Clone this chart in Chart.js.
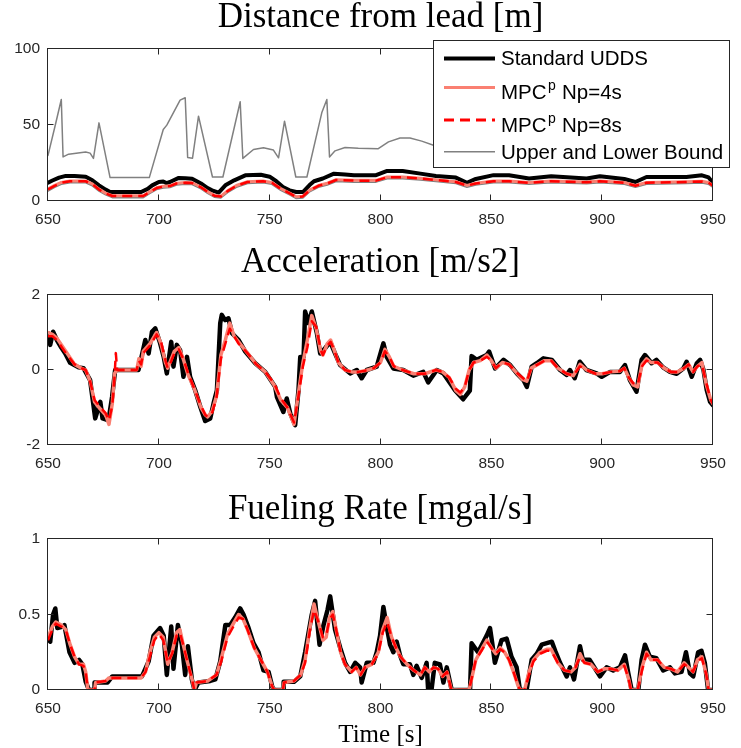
<!DOCTYPE html>
<html><head><meta charset="utf-8">
<script src="https://cdn.jsdelivr.net/npm/chart.js@4.4.1/dist/chart.umd.min.js"></script>
<style>
html,body{margin:0;padding:0;background:#fff;}
body{width:741px;height:748px;position:relative;overflow:hidden;}
canvas{position:absolute;left:0;}
</style></head><body>
<canvas id="c1" width="741" height="236" style="top:0px"></canvas>
<canvas id="c2" width="741" height="240" style="top:236px"></canvas>
<canvas id="c3" width="741" height="272" style="top:476px"></canvas>
<script>
// ---------------- DATA ----------------
const xTicks = [650, 700, 750, 800, 850, 900, 950];
const seriesNames = ['Standard UDDS', 'MPC', 'MPC', 'Upper and Lower Bound'];

// Distance from lead [m]
const distUDDS_t = [650,652,655,658,662,667,670,673,676,678,
  692,695,697,700,702,703.5,705,709,712,715,
  719,722,724,727,730,734,739,746,750,753,
  756,759,762,765,768,770,774,779,784,788,
  798,803,810,818,825,834,839,843,851,858,
  867,877,893,899,910,915,920,938,945,948,950];
const distUDDS = [12.1,13.5,15.4,16.5,16.5,16,13.6,10.3,7.5,5.9,
  5.9,8,10.3,12.5,12.8,11.8,12.5,15.2,15,14.7,
  11.5,8.5,7,5.5,10.3,13.6,16.9,17.3,16,13,
  9.2,7,5.9,5.9,10.5,13,14.8,18,17.5,17,
  17,19.8,19.8,18,16.5,15.4,12,14.5,17,16.9,
  14.8,16.3,14.8,16.3,14.5,12.5,15.8,15.8,16.9,15.5,12];

const distMPC_t = [650,653,656,660,667,670,673,676,679,693,
  696,699,702,705,708,712,715,719,722,725,
  728,731,735,740,747,751,755,759,762,765,
  768,772,776,780,788,798,803,810,818,825,
  834,839,843,851,858,867,877,893,899,910,
  915,920,938,945,948,950];
const distMPC4 = [8,10.3,12.2,13.2,13.2,11.3,7.8,5.2,3.5,3.5,
  6.2,8.7,9.7,10,11.7,12.2,12,9.2,6.2,3.7,
  3.2,6.7,10.2,12.7,13.2,12.2,8.2,5.2,2.8,3.2,
  7.2,10.2,11.7,14,13.6,13.6,15.8,15.8,15,14,
  12.7,10.3,11.7,13.2,13.2,12.2,13.2,12.5,13.2,12.2,
  10.2,12.2,12.7,13,12.2,10.2];
const distMPC8 = [7.6,10,12,13,13,11,7.5,5,3.3,3.3,
  6,8.5,9.5,9.8,11.5,12,11.8,9,6,3.5,
  3,6.5,10,12.5,13,12,8,5,2.6,3,
  7,10,11.5,13.8,13.4,13.4,15.6,15.6,14.8,13.8,
  12.5,10.1,11.5,13,13,12,13,12.3,13,12,
  10,12,12.5,12.8,12,10];
const distLower = [6.5,9,11,12,12,10,6.5,4,2.2,2.2,
  5,7.5,8.5,8.8,10.5,11,10.8,8,5,2.5,
  2,5.5,9,11.5,12,11,7,4,1.6,2,
  6,9,10.5,12.8,12.4,12.4,14.6,14.6,13.8,12.8,
  11.5,9.1,10.5,12,12,11,12,11.3,12,11,
  9,11,11.5,11.8,11,9];

const distUpper_t = [650,653.3,656,656.8,659.3,667,669,670.5,673,678,
  695.7,702,703.6,709.6,711.9,713,715.2,717.9,724.2,728.9,
  736.7,737.9,742.7,747.2,751.7,754,756.7,761.8,766.8,773.5,
  775.8,777,779.5,784,790,799,803.6,808.8,813.3,818.6,
  823.9,830,845,860,880,900,920,940,950];
const distUpper = [30,50,66.8,29,30.8,32.3,31.5,28,51.4,15.4,
  15.4,47,49.9,66.4,67.9,28.6,28.2,55.8,15.8,15.8,
  65.3,28,33.9,35,33.5,28.4,52.5,15.8,15.8,58,
  66.8,29,33,35.2,34.7,34.4,38.9,41.5,41.5,39.4,
  36.7,36,38,39,38,38,37,38,37];

// Acceleration [m/s2]
const accUDDS_t = [650,651,652.3,654,656,657.8,660,663.8,666,669,
  670.6,671.3,673.6,674.6,677.3,678.9,680.3,690.8,692,693.9,
  695.4,696.9,698.4,700.6,702.2,703.6,705.6,706.6,708.1,709.6,
  711.1,712.7,714.1,716.4,718.7,720.9,723.2,724.7,726.2,727.7,
  728.4,729.9,731.4,733,736,739,743.5,748,752.5,753.3,
  756.2,757.7,759.3,761.5,763,763.8,765.3,766,767.5,769,
  771.3,772.8,775,777.3,779.5,781.8,786.3,789.3,791.5,793.8,
  798.3,801.3,802.8,805.8,810.3,814.8,819.3,821.5,825.4,828.4,
  833.6,837.3,840.3,841.1,843.4,847.9,849,851.7,855.5,858.5,
  861.5,864.5,866,868.2,870.5,873.5,877.3,881,884,885.5,
  887.6,889.9,892.9,897.5,899.8,903.6,908,910.3,912.5,915.5,
  917.8,919.3,922.3,924.5,927.5,930.6,933.6,936.6,938.1,940.4,
  942.7,944.2,945.7,947.2,948.7,950];
const accUDDS = [0.98,0.67,1.02,0.8,0.6,0.44,0.19,0.07,0.05,-0.27,
  -0.98,-1.29,-0.85,-1.29,-1.34,-0.72,0,0,0.3,0.8,
  0.44,1.02,1.11,0.71,0.35,-0.09,0.75,0.09,0.67,0.53,
  -0.18,0.35,-0.18,-0.54,-0.98,-1.36,-1.29,-0.89,-0.54,1.25,
  1.47,1.33,1.38,0.98,0.8,0.49,0.18,-0.05,-0.45,-0.72,
  -1.12,-0.76,-1.16,-1.47,-0.54,0.35,0.35,1.56,1.25,1.56,
  0.98,0.44,0.58,0.75,0.44,0.13,-0.09,0,-0.22,0,
  0.09,0.71,0.35,0.04,0,-0.15,-0.05,-0.33,0,-0.09,
  -0.54,-0.78,-0.55,0.37,0.27,0.4,0.49,0.04,0.27,0.13,
  -0.09,-0.27,-0.45,0.09,0.18,0.31,0.27,0,-0.13,0,
  -0.22,0.22,0,-0.09,-0.18,-0.05,-0.05,0.13,-0.27,-0.58,
  0.27,0.4,0.18,0.27,0.07,-0.05,-0.1,0.04,0.22,-0.18,
  0.18,0.27,0,-0.54,-0.85,-0.94];

const accMPC4_t = [650,652,654,658,662,665,667,669,671,673,
  676,677.5,679,680,681,690,691,692,693,696,
  699,701,703,704,705,707,709,711,713,716,
  719,721,722,724,726,728,730,732,734,736,
  740,744,748,752,755,758,761,763,765,767,
  769,771,773,774,776,777.5,779,781,784,787,
  790,793,797,800,802,804,806,810,815,820,
  825,828,831,834,836,838,840,842,845,848,
  850,852,855,858,861,864,866,868,871,874,
  877,880,884,887,890,893,897,900,904,908,
  910,912,914,916,918,920,922,925,928,931,
  934,937,939,941,943,945,947,949,950];
const accMPC4 = [1.0,0.95,0.85,0.5,0.15,0.05,0,-0.3,-0.85,-1.0,
  -1.2,-1.45,-0.9,-0.1,0,0,0.3,0.1,0.5,0.7,
  1.0,0.7,0.2,0.05,0.2,0.5,0.6,0.3,-0.1,-0.5,
  -1.0,-1.2,-1.25,-1.1,-0.7,0.4,0.8,1.25,0.9,0.75,
  0.45,0.15,-0.05,-0.4,-0.8,-1.0,-1.45,-0.6,0.2,0.8,
  1.45,1.1,0.5,0.4,0.7,0.8,0.55,0.2,0,-0.05,
  -0.05,-0.02,0.05,0.2,0.55,0.35,0.1,0,-0.1,-0.1,
  0,-0.05,-0.2,-0.55,-0.65,-0.45,0,0.2,0.25,0.4,
  0.25,0.05,0.2,0.15,-0.05,-0.25,-0.3,0.05,0.15,0.25,
  0.25,0.05,-0.1,-0.15,0.15,0,-0.1,-0.1,-0.05,-0.03,
  0.05,-0.2,-0.4,-0.45,0.15,0.3,0.2,0.2,0.05,-0.05,
  -0.05,0.05,0.15,-0.05,0.1,0.2,-0.4,-0.8,-0.9];

const accMPC8_t = [650,652,654,658,662,665,667,669,671,673,
  676,677.5,679,680,680.6,681.2,690,691,692,693,696,
  699,701,703,704,705,707,709,711,713,716,
  719,721,722,724,726,728,730,732,734,736,
  740,744,748,752,755,758,761,763,765,767,
  769,771,773,774,776,777.5,779,781,784,787,
  790,793,797,800,802,804,806,810,815,820,
  825,828,831,834,836,838,840,842,845,848,
  850,852,855,858,861,864,866,868,871,874,
  877,880,884,887,890,893,897,900,904,908,
  910,912,914,916,918,920,922,925,928,931,
  934,937,939,941,943,945,947,949,950];
const accMPC8 = [0.9,0.9,0.8,0.45,0.15,0.05,0,-0.3,-0.8,-0.95,
  -1.15,-1.35,-0.95,-0.2,0.45,0,0,0.25,0.15,0.45,0.65,
  0.95,0.75,0.25,0.05,0.15,0.45,0.55,0.3,-0.05,-0.5,
  -0.95,-1.2,-1.25,-1.15,-0.75,0.3,0.7,1.1,0.9,0.7,
  0.45,0.15,-0.05,-0.35,-0.75,-1.0,-1.4,-0.7,0.1,0.6,
  1.3,1.15,0.55,0.4,0.65,0.75,0.55,0.2,0,-0.05,
  -0.05,-0.02,0.05,0.2,0.5,0.35,0.1,0,-0.1,-0.1,
  0,-0.05,-0.2,-0.5,-0.6,-0.45,0,0.2,0.25,0.35,
  0.25,0.05,0.2,0.15,-0.05,-0.2,-0.3,0.05,0.15,0.25,
  0.25,0.05,-0.1,-0.15,0.1,0,-0.1,-0.1,-0.05,-0.03,
  0.05,-0.2,-0.35,-0.4,0.1,0.25,0.2,0.2,0.05,-0.05,
  -0.05,0.05,0.15,-0.05,0.1,0.15,-0.35,-0.8,-0.9];

// Fueling Rate [mgal/s]
const fuelUDDS_t = [650,651,652.3,653.3,654.2,656.7,657.4,659.7,662,664,
  665.5,667,668.5,670.8,671,676.9,679,692.4,693.9,695.4,
  697.6,700.6,702.2,703.6,705.6,706.6,708.6,710.4,711.9,713.1,
  714.9,716.1,717.9,723.2,725.5,727.7,730,732.2,734.4,736.7,
  738.2,740.5,742.7,745,747.2,749.5,751.2,752,756.2,756.3,
  761,763.8,766,769,770.5,772.5,774.3,776.1,777.3,779.5,
  781.8,784,786.3,788.6,790.8,791.5,793.8,796.8,798.3,799.8,
  801.3,802.8,804.3,805.8,807.3,808.8,810.3,813.3,814.8,816.3,
  818.6,820.8,821.5,823,824.5,826.8,828.4,829.9,832.1,840.4,
  841.1,844,847.9,849.4,850.5,851.6,853,854.6,856.9,859.1,
  861.4,862.9,865.9,868.2,870.5,872.7,875,877.3,878.8,881,
  884,885.5,887.3,890,891.3,894.3,899,902,905,908,
  910.3,911.8,913.3,916.3,917.8,919.3,921.5,924.5,927.5,930.6,
  932.8,935.8,937.8,939.6,941.1,943.3,944.8,946.3,947.8,950];
const fuelUDDS = [0.34,0.32,0.5,0.54,0.41,0.42,0.43,0.25,0.18,0.2,
  0.17,0.055,0,0,0.05,0.05,0.09,0.09,0.14,0.19,
  0.36,0.41,0.36,0.1,0.42,0.14,0.43,0.3,0.1,0.29,
  0.07,0,0.05,0.06,0.07,0.19,0.43,0.43,0.48,0.54,
  0.5,0.41,0.31,0.25,0.13,0.12,0.02,0,0,0.055,
  0.055,0.09,0.25,0.5,0.59,0.3,0.43,0.53,0.62,0.4,
  0.28,0.18,0.12,0.18,0.15,0.05,0.18,0.18,0.25,0.36,
  0.55,0.42,0.3,0.25,0.32,0.23,0.17,0.17,0.1,0.16,
  0.08,0.18,0,0,0.18,0.17,0.05,0.15,0,0,
  0.31,0.25,0.36,0.41,0.3,0.18,0.25,0.33,0.34,0.22,
  0.15,0,0,0.2,0.24,0.3,0.31,0.32,0.26,0.18,
  0.09,0.15,0.07,0.29,0.2,0.2,0.09,0.15,0.13,0.15,
  0.23,0.11,0,0,0.2,0.3,0.22,0.21,0.13,0.15,
  0.11,0.12,0.25,0.11,0.09,0.25,0.26,0.18,0,0];

const fuelMPC_t = [650,652,653.5,656,658,660,662,664,666,667,
  668,671,671.5,676,677.5,692,694,696,698,700,
  702,704,706,708,709.5,711,713,715,716,717,
  722,726,728,731,734,736,738,740,743,746,
  749,751,752,756,756.5,761,764,766,768,770,
  772,774,775.5,777,778.5,780,782,784,787,789,
  791,793,796,799,801,803,805,807,809,812,
  815,818,820,822,824,826,828,830,832,840,
  841.5,843,846,848,850,852,854,856,858,860,
  862,863,865,867,869,872,875,877,880,883,
  886,888,890,892,895,898,901,904,907,910,
  912,913,916,918,920,922,925,928,931,934,
  937,939,941,943,945,947,948,950];
const fuelMPC4 = [0.35,0.42,0.45,0.43,0.4,0.3,0.22,0.17,0.17,0.12,
  0,0,0.05,0.06,0.08,0.08,0.12,0.25,0.35,0.38,
  0.35,0.17,0.25,0.38,0.4,0.3,0.18,0.07,0,0.05,
  0.06,0.1,0.2,0.37,0.45,0.5,0.47,0.4,0.28,0.2,
  0.12,0.03,0,0,0.05,0.06,0.1,0.2,0.4,0.57,
  0.45,0.33,0.35,0.48,0.52,0.4,0.25,0.17,0.12,0.15,
  0.1,0.15,0.17,0.25,0.4,0.48,0.35,0.28,0.22,0.17,
  0.13,0.1,0.15,0.12,0.15,0.14,0.09,0.12,0,0,
  0.1,0.2,0.28,0.33,0.28,0.24,0.28,0.25,0.2,0.12,
  0.03,0,0,0.12,0.2,0.25,0.27,0.27,0.18,0.13,
  0.12,0.15,0.24,0.18,0.17,0.12,0.14,0.14,0.13,0.17,
  0.07,0,0,0.15,0.25,0.2,0.2,0.15,0.14,0.12,
  0.18,0.15,0.12,0.2,0.22,0.1,0,0];
const fuelMPC8 = [0.33,0.4,0.44,0.42,0.4,0.3,0.22,0.17,0.16,0.12,
  0,0,0.05,0.06,0.08,0.08,0.12,0.22,0.33,0.37,
  0.33,0.18,0.24,0.36,0.38,0.3,0.18,0.07,0,0.05,
  0.06,0.1,0.18,0.35,0.43,0.48,0.47,0.4,0.28,0.2,
  0.12,0.03,0,0,0.05,0.06,0.1,0.18,0.38,0.53,
  0.45,0.35,0.36,0.47,0.5,0.4,0.25,0.17,0.12,0.15,
  0.1,0.15,0.17,0.24,0.38,0.45,0.35,0.28,0.22,0.17,
  0.13,0.1,0.15,0.12,0.15,0.14,0.09,0.12,0,0,
  0.1,0.2,0.27,0.32,0.28,0.24,0.27,0.25,0.2,0.12,
  0.03,0,0,0.1,0.19,0.24,0.26,0.26,0.18,0.13,
  0.12,0.15,0.22,0.18,0.17,0.12,0.14,0.14,0.13,0.16,
  0.07,0,0,0.13,0.24,0.2,0.2,0.15,0.14,0.12,
  0.17,0.15,0.12,0.19,0.21,0.1,0,0];

// ---------------- STYLE ----------------
const C_UDDS = '#000000', C_MPC4 = '#FA8072', C_MPC8 = '#FF0000', C_BOUND = '#808080';
const AX = '#262626';
const SANS = '"Liberation Sans", Arial, sans-serif';
const SERIF = '"Liberation Serif", "Times New Roman", serif';

function pts(t, v) { return t.map((x, i) => ({ x: x, y: v[i] })); }
function ds(label, t, v, color, width, order, dash) {
  return { label: label, data: pts(t, v), borderColor: color, backgroundColor: color,
    borderWidth: width, borderDash: dash || [], pointRadius: 0, fill: false, tension: 0,
    order: order, borderJoinStyle: 'round', borderCapStyle: dash ? 'butt' : 'round' };
}

const framePlugin = {
  id: 'frame',
  afterDatasetsDraw(chart) {
    const { ctx, chartArea: a, scales } = chart;
    const x = scales.x, y = scales.y;
    const L = Math.round(a.left) - 0.5, R = Math.round(a.right) - 0.5;
    const T = Math.round(a.top) - 0.5, B = Math.round(a.bottom) - 0.5;
    ctx.save();
    ctx.strokeStyle = AX; ctx.lineWidth = 1;
    ctx.beginPath();
    x.ticks.forEach(tk => { const p = Math.round(x.getPixelForValue(tk.value)) - 0.5;
      ctx.moveTo(p, B); ctx.lineTo(p, B - 6); ctx.moveTo(p, T); ctx.lineTo(p, T + 6); });
    y.ticks.forEach(tk => { const p = Math.round(y.getPixelForValue(tk.value)) - 0.5;
      ctx.moveTo(L, p); ctx.lineTo(L + 6, p); ctx.moveTo(R, p); ctx.lineTo(R - 6, p); });
    ctx.stroke();
    ctx.strokeRect(L, T, R - L, B - T);
    ctx.restore();
  }
};

const textPlugin = {
  id: 'texts',
  afterDraw(chart, args, opts) {
    const { ctx, chartArea: a } = chart;
    const cx = (a.left + a.right) / 2;
    ctx.save();
    ctx.fillStyle = '#000';
    ctx.textAlign = 'center';
    ctx.textBaseline = 'middle';
    (opts.items || []).forEach(it => {
      ctx.font = it.size + 'px ' + SERIF;
      ctx.fillText(it.text, cx, it.y);
    });
    if (opts.legend) drawLegend(ctx);
    ctx.restore();
  }
};

function drawLegend(ctx) {
  const bx = 433.5, by = 40.5, bw = 296, bh = 127;
  ctx.fillStyle = '#fff'; ctx.fillRect(bx, by, bw, bh);
  ctx.strokeStyle = AX; ctx.lineWidth = 1; ctx.strokeRect(bx, by, bw, bh);
  const rows = [
    { name: seriesNames[0], sup: null, rest: '', color: C_UDDS, w: 4, dash: [], ly: 58.5, ty: 65 },
    { name: seriesNames[1], sup: 'p', rest: ' Np=4s', color: C_MPC4, w: 3, dash: [], ly: 87.5, ty: 99 },
    { name: seriesNames[2], sup: 'p', rest: ' Np=8s', color: C_MPC8, w: 3, dash: [10, 6], ly: 120, ty: 131.5 },
    { name: seriesNames[3], sup: null, rest: '', color: C_BOUND, w: 1.5, dash: [], ly: 151.7, ty: 159 }
  ];
  rows.forEach(r => {
    ctx.save();
    ctx.strokeStyle = r.color; ctx.lineWidth = r.w; ctx.setLineDash(r.dash);
    ctx.beginPath(); ctx.moveTo(444, r.ly); ctx.lineTo(495, r.ly); ctx.stroke();
    ctx.restore();
    ctx.fillStyle = '#000'; ctx.textAlign = 'left'; ctx.textBaseline = 'alphabetic';
    ctx.font = '20.5px ' + SANS;
    let x = 501;
    ctx.fillText(r.name, x, r.ty);
    x += ctx.measureText(r.name).width;
    if (r.sup) {
      ctx.font = '14px ' + SANS;
      ctx.fillText(r.sup, x + 1.5, r.ty - 9);
      x += ctx.measureText(r.sup).width + 2;
      ctx.font = '20.5px ' + SANS;
      ctx.fillText(r.rest, x, r.ty);
    }
  });
}

function makeChart(id, canvasTop, canvasH, areaTop, areaBot, ymin, ymax, ystep, datasets, texts, legend) {
  return new Chart(document.getElementById(id), {
    type: 'line',
    data: { datasets: datasets },
    plugins: [framePlugin, textPlugin],
    options: {
      responsive: false, animation: false, events: [],
      layout: { padding: { top: areaTop - canvasTop, left: 0, right: 28, bottom: 0 } },
      plugins: { legend: { display: false }, tooltip: { enabled: false }, title: { display: false },
        texts: { items: texts, legend: legend } },
      scales: {
        x: { type: 'linear', min: 650, max: 950,
          afterBuildTicks(s) { s.ticks = xTicks.map(v => ({ value: v })); },
          ticks: { color: AX, font: { family: SANS, size: 15.5 }, padding: 9, maxRotation: 0, autoSkip: false,
            callback: v => String(v) },
          grid: { display: false, drawTicks: false }, border: { display: false },
          afterFit(s) { s.height = canvasTop + canvasH - areaBot; } },
        y: { type: 'linear', min: ymin, max: ymax,
          ticks: { stepSize: ystep, color: AX, font: { family: SANS, size: 15.5 }, padding: 8,
            callback: v => String(v) },
          grid: { display: false, drawTicks: false }, border: { display: false },
          afterFit(s) { s.width = 48; } }
      }
    }
  });
}

makeChart('c1', 0, 236, 49, 201, 0, 100, 50, [
  ds(seriesNames[0], distUDDS_t, distUDDS, C_UDDS, 4, 4),
  ds('MPC Np=4s', distMPC_t, distMPC4, C_MPC4, 3, 2),
  ds('MPC Np=8s', distMPC_t, distMPC8, C_MPC8, 2.5, 1, [10, 6]),
  ds('Upper Bound', distUpper_t, distUpper, C_BOUND, 1.5, 3),
  ds('Lower Bound', distMPC_t, distLower, C_BOUND, 1.5, 3)
], [{ text: 'Distance from lead [m]', y: 18, size: 35 }], true);

makeChart('c2', 236, 240, 295, 445, -2, 2, 2, [
  ds(seriesNames[0], accUDDS_t, accUDDS, C_UDDS, 4.5, 4),
  ds('MPC Np=4s', accMPC4_t, accMPC4, C_MPC4, 3.5, 2),
  ds('MPC Np=8s', accMPC8_t, accMPC8, C_MPC8, 2.5, 1, [10, 6])
], [{ text: 'Acceleration [m/s2]', y: 263 - 236, size: 35 }], false);

makeChart('c3', 476, 272, 539, 690, 0, 1, 0.5, [
  ds(seriesNames[0], fuelUDDS_t, fuelUDDS, C_UDDS, 4.5, 4),
  ds('MPC Np=4s', fuelMPC_t, fuelMPC4, C_MPC4, 3.5, 2),
  ds('MPC Np=8s', fuelMPC_t, fuelMPC8, C_MPC8, 2.5, 1, [10, 6])
], [{ text: 'Fueling Rate [mgal/s]', y: 510 - 476, size: 35 },
    { text: 'Time [s]', y: 735 - 476, size: 25 }], false);
</script>
</body></html>
